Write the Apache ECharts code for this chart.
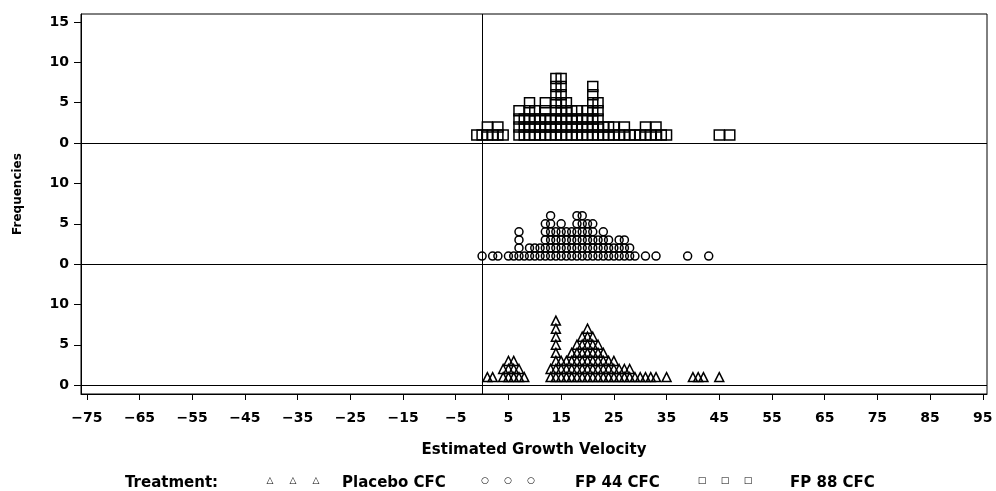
<!DOCTYPE html>
<html>
<head>
<meta charset="utf-8">
<script src="https://cdn.jsdelivr.net/npm/echarts@6/dist/echarts.min.js"></script>
<style>html,body{margin:0;padding:0;background:#fff}#c{width:996px;height:491px}</style>
</head>
<body>
<div id="c"></div>
<script>
// ---- data ----
const xTickValues = [-75,-65,-55,-45,-35,-25,-15,-5,5,15,25,35,45,55,65,75,85,95];
const yTickValues = [0,5,10,15,20,25,30,35,40,45];
const yTickLabels = ['0','5','10','0','5','10','0','5','10','15'];

// Placebo CFC (bottom panel): growth velocity value and frequency
const placeboX = [1,2,4,5,6,7,8,13,14,15,16,17,18,19,20,21,22,23,24,25,26,27,28,29,30,31,32,33,35,40,41,42,45];
const placeboN = [1,1,2,3,3,2,1,2,8,3,3,4,5,6,7,6,5,4,3,3,2,2,2,1,1,1,1,1,1,1,1,1,1];

// FP 44 CFC (middle panel)
const fp44X = [0,2,3,5,6,7,8,9,10,11,12,13,14,15,16,17,18,19,20,21,22,23,24,25,26,27,28,29,31,33,39,43];
const fp44N = [1,1,1,1,1,4,1,2,2,2,5,6,4,5,4,4,6,6,5,5,3,4,3,2,3,3,2,1,1,1,1,1];

// FP 88 CFC (top panel)
const fp88X = [-1,0,1,2,3,4,7,8,9,10,11,12,13,14,15,16,17,18,19,20,21,22,23,24,25,26,27,28,29,30,31,32,33,34,35,45,47];
const fp88N = [1,1,2,1,2,1,4,3,5,4,3,5,3,8,8,5,4,4,3,4,7,5,2,2,2,1,2,1,1,1,2,1,2,1,1,1,1];

const panelOffsets = {placebo: 0, fp44: 15, fp88: 30};

// legend entries
const legendNames = ['Placebo CFC', 'FP 44 CFC', 'FP 88 CFC'];
const legendGlyphs = ['\u25B3', '\u25CB', '\u25A1'];

function expand(xs, ns, offset) {
  const pts = [];
  xs.forEach((x, i) => { for (let k = 1; k <= ns[i]; k++) pts.push([x, offset + k]); });
  return pts;
}

const FONT = 'DejaVu Sans';
const chart = echarts.init(document.getElementById('c'), null, {renderer: 'canvas'});
const sym = (shape, size) => ({
  type: 'scatter', symbol: shape, symbolSize: size, silent: true,
  itemStyle: {color: 'rgba(0,0,0,0)', borderColor: '#000', borderWidth: 1.5, opacity: 1}
});

// legend graphics (decoration)
const legendGraphics = [
  {type: 'text', x: 125, y: 483, style: {text: 'Treatment:', font: 'bold 15px ' + FONT, fill: '#000', verticalAlign: 'middle'}}
];
const glyphStarts = [270, 485, 702];
const nameStarts = [342, 575, 790];
legendNames.forEach((name, i) => {
  for (let k = 0; k < 3; k++) {
    legendGraphics.push({type: 'text', x: glyphStarts[i] + k * 23, y: 481,
      style: {text: legendGlyphs[i], font: 'bold 9px ' + FONT, fill: '#000', align: 'center', verticalAlign: 'middle'}});
  }
  legendGraphics.push({type: 'text', x: nameStarts[i], y: 483,
    style: {text: name, font: 'bold 15px ' + FONT, fill: '#000', verticalAlign: 'middle'}});
});

chart.setOption({
  animation: false,
  backgroundColor: '#fff',
  grid: {left: 81, right: 9, top: 14, bottom: 97, show: true, borderColor: '#000', borderWidth: 1, backgroundColor: 'transparent'},
  xAxis: {
    type: 'value', min: -76.1, max: 95.8,
    name: 'Estimated Growth Velocity', nameLocation: 'middle', nameGap: 49,
    nameTextStyle: {fontFamily: FONT, fontWeight: 'bold', fontSize: 15, color: '#000'},
    axisLine: {show: true, onZero: false, lineStyle: {color: '#000', width: 1}},
    axisTick: {show: true, length: 6, customValues: xTickValues, lineStyle: {color: '#000', width: 1}},
    axisLabel: {customValues: xTickValues, margin: 17, fontFamily: FONT, fontWeight: 'bold', fontSize: 14, color: '#000',
      formatter: v => (v < 0 ? '\u2212' + Math.abs(v) : String(v))},
    splitLine: {show: false}
  },
  yAxis: {
    type: 'value', min: -1.1, max: 46,
    axisLine: {show: true, onZero: false, lineStyle: {color: '#000', width: 1}},
    axisTick: {show: true, length: 7, customValues: yTickValues, lineStyle: {color: '#000', width: 1}},
    axisLabel: {customValues: yTickValues, margin: 12, fontFamily: FONT, fontWeight: 'bold', fontSize: 14, color: '#000',
      formatter: v => yTickLabels[yTickValues.indexOf(v)]},
    splitLine: {show: false}
  },
  series: [
    Object.assign(sym('triangle', 9), {name: 'Placebo CFC', data: expand(placeboX, placeboN, panelOffsets.placebo),
      markLine: {silent: true, symbol: ['none','none'], label: {show: false}, animation: false,
        lineStyle: {color: '#000', width: 1, type: 'solid'},
        data: [{xAxis: 0}, {yAxis: panelOffsets.placebo}, {yAxis: panelOffsets.fp44}, {yAxis: panelOffsets.fp88}]}}),
    Object.assign(sym('circle', 8), {name: 'FP 44 CFC', data: expand(fp44X, fp44N, panelOffsets.fp44)}),
    Object.assign(sym('rect', 10), {name: 'FP 88 CFC', data: expand(fp88X, fp88N, panelOffsets.fp88)})
  ],
  graphic: [
    {type: 'text', x: 18, y: 194, rotation: Math.PI / 2,
      style: {text: 'Frequencies', font: 'bold 12px ' + FONT, fill: '#000', align: 'center', verticalAlign: 'middle'}}
  ].concat(legendGraphics)
});
</script>
</body>
</html>
